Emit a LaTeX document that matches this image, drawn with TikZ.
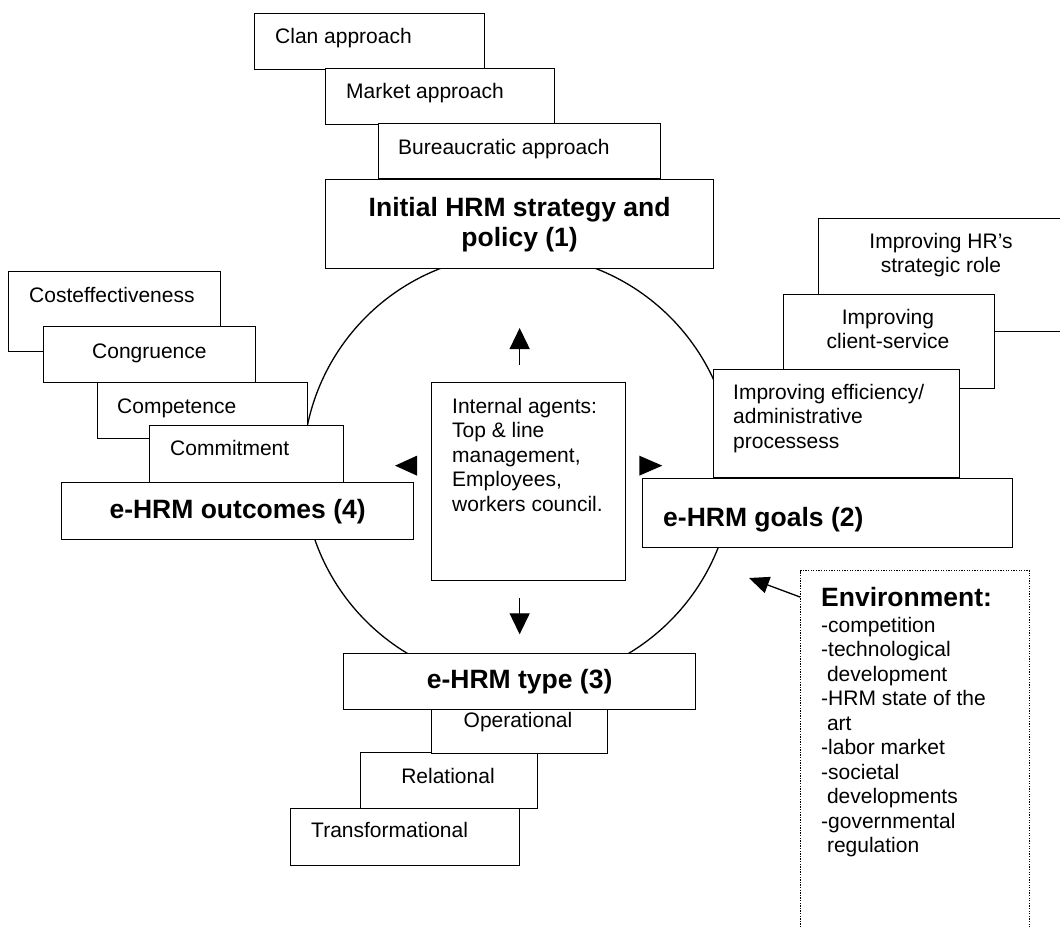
\documentclass[tikz,border=0pt]{standalone}
\usepackage{fontspec}
\setmainfont{Liberation Sans}
\usetikzlibrary{arrows.meta}
\newcommand{\rf}{\fontsize{21}{24.5}\selectfont}
\newcommand{\hf}{\fontsize{26.5}{30}\selectfont\bfseries}
\tikzset{
  card/.style={draw, fill=white, line width=1.3pt, inner sep=0pt, anchor=north west},
  envbox/.style={draw, line width=1.2pt, dash pattern=on 1.3pt off 1.3pt, inner sep=0pt, anchor=north west},
  lbl/.style={font=\rf, inner sep=0pt},
  tri/.style={-{Triangle[length=21pt,width=20pt]}, line width=1.3pt},
}
\begin{document}
\begin{tikzpicture}[x=1pt,y=-1pt]
\useasboundingbox (0,0) rectangle (1060,927);
\node[circle, draw, line width=1.3pt, minimum size=430pt, inner sep=0pt] (cycle) at (518,469) {};

% strategy (1) and its approaches
\foreach \n/\x/\y/\w/\h/\tx/\ty/\t in {clan/254/13/230/56/275/43/Clan approach, market/325/68/229/56/346/98/Market approach, bureau/378/123/282/55/398/154/Bureaucratic approach}{
  \node[card, minimum width=\w pt, minimum height=\h pt] (\n) at (\x,\y) {};
  \node[lbl, anchor=base west] (\n-t) at (\tx,\ty) {\t};
}
\node[card, minimum width=388pt, minimum height=89pt, font=\hf, align=center] (init) at (325,179) {Initial HRM strategy and\\policy (1)};

% outcomes (4)
\foreach \n/\x/\y/\w/\h/\tx/\ty/\t in {cost/8/271/212/80/29/302/Costeffectiveness, congr/43/326/212/56/92/358/Congruence, compet/97/382/210/56/117/413/Competence, commit/149/425/194/57/170/455/Commitment}{
  \node[card, minimum width=\w pt, minimum height=\h pt] (\n) at (\x,\y) {};
  \node[lbl, anchor=base west] (\n-t) at (\tx,\ty) {\t};
}
\node[card, minimum width=352pt, minimum height=57pt, font=\hf] (outcomes) at (61,482) {e-HRM outcomes (4)};

% goals (2)
\node[card, minimum width=262pt, minimum height=113pt] (strat) at (818,218) {};
\node[lbl, anchor=north, align=center] (strat-t) at (941,233) {Improving HR’s\\strategic role};
\node[card, minimum width=211pt, minimum height=94pt] (client) at (783,294) {};
\node[lbl, anchor=north, align=center] (client-t) at (888,309) {Improving\\client-service};
\node[card, minimum width=246pt, minimum height=108pt] (effic) at (713,369) {};
\node[lbl, anchor=north west, align=left] (effic-t) at (733,384) {Improving efficiency/\\administrative\\processess};
\node[card, minimum width=370pt, minimum height=69pt] (goals) at (642,478) {};
\node[lbl, font=\hf, anchor=base west] (goals-t) at (663,526.5) {e-HRM goals (2)};

% type (3)
\node[card, minimum width=229pt, minimum height=57pt] (trans) at (290,808) {};
\node[lbl, anchor=base west] (trans-t) at (311,837) {Transformational};
\node[card, minimum width=177pt, minimum height=56pt] (relat) at (360,752) {};
\node[lbl, anchor=base] (relat-t) at (448,783) {Relational};
\node[card, minimum width=176pt, minimum height=63pt] (oper) at (431,690) {};
\node[lbl, anchor=base] (oper-t) at (518,727) {Operational};
\node[card, minimum width=352pt, minimum height=56pt, font=\hf] (type) at (343,653) {e-HRM type (3)};

% internal agents
\node[card, minimum width=194pt, minimum height=198pt] (agents) at (431,382) {};
\node[lbl, anchor=north west, align=left] (agents-t) at (452,398) {Internal agents:\\Top \& line\\management,\\Employees,\\workers council.};
\draw[tri] (agents.north -| init.south) ++(0,-17) -- ++(0,-37);
\draw[tri] (agents.south -| type.north) ++(0,17) -- ++(0,36);
\fill (agents.west) ++(-14,-26) -- ++(0,20) -- ++(-22,-10) -- cycle;
\fill (agents.east) ++(13,-26) -- ++(0,20) -- ++(23,-10) -- cycle;

% environment
\node[envbox, minimum width=229pt, minimum height=380pt] (env) at (800,570) {};
\node[lbl, anchor=north west, align=left] (env-t) at (821,587) {{\hf Environment:}\\[1.5pt]-competition\\-technological\\\ development\\-HRM state of the\\\ art\\-labor market\\-societal\\\ developments\\-governmental\\\ regulation};
\draw[tri, -{Triangle[length=20pt,width=17pt]}] (env.north west) ++(0,27) -- ++(-51,-19);
\end{tikzpicture}
\end{document}
